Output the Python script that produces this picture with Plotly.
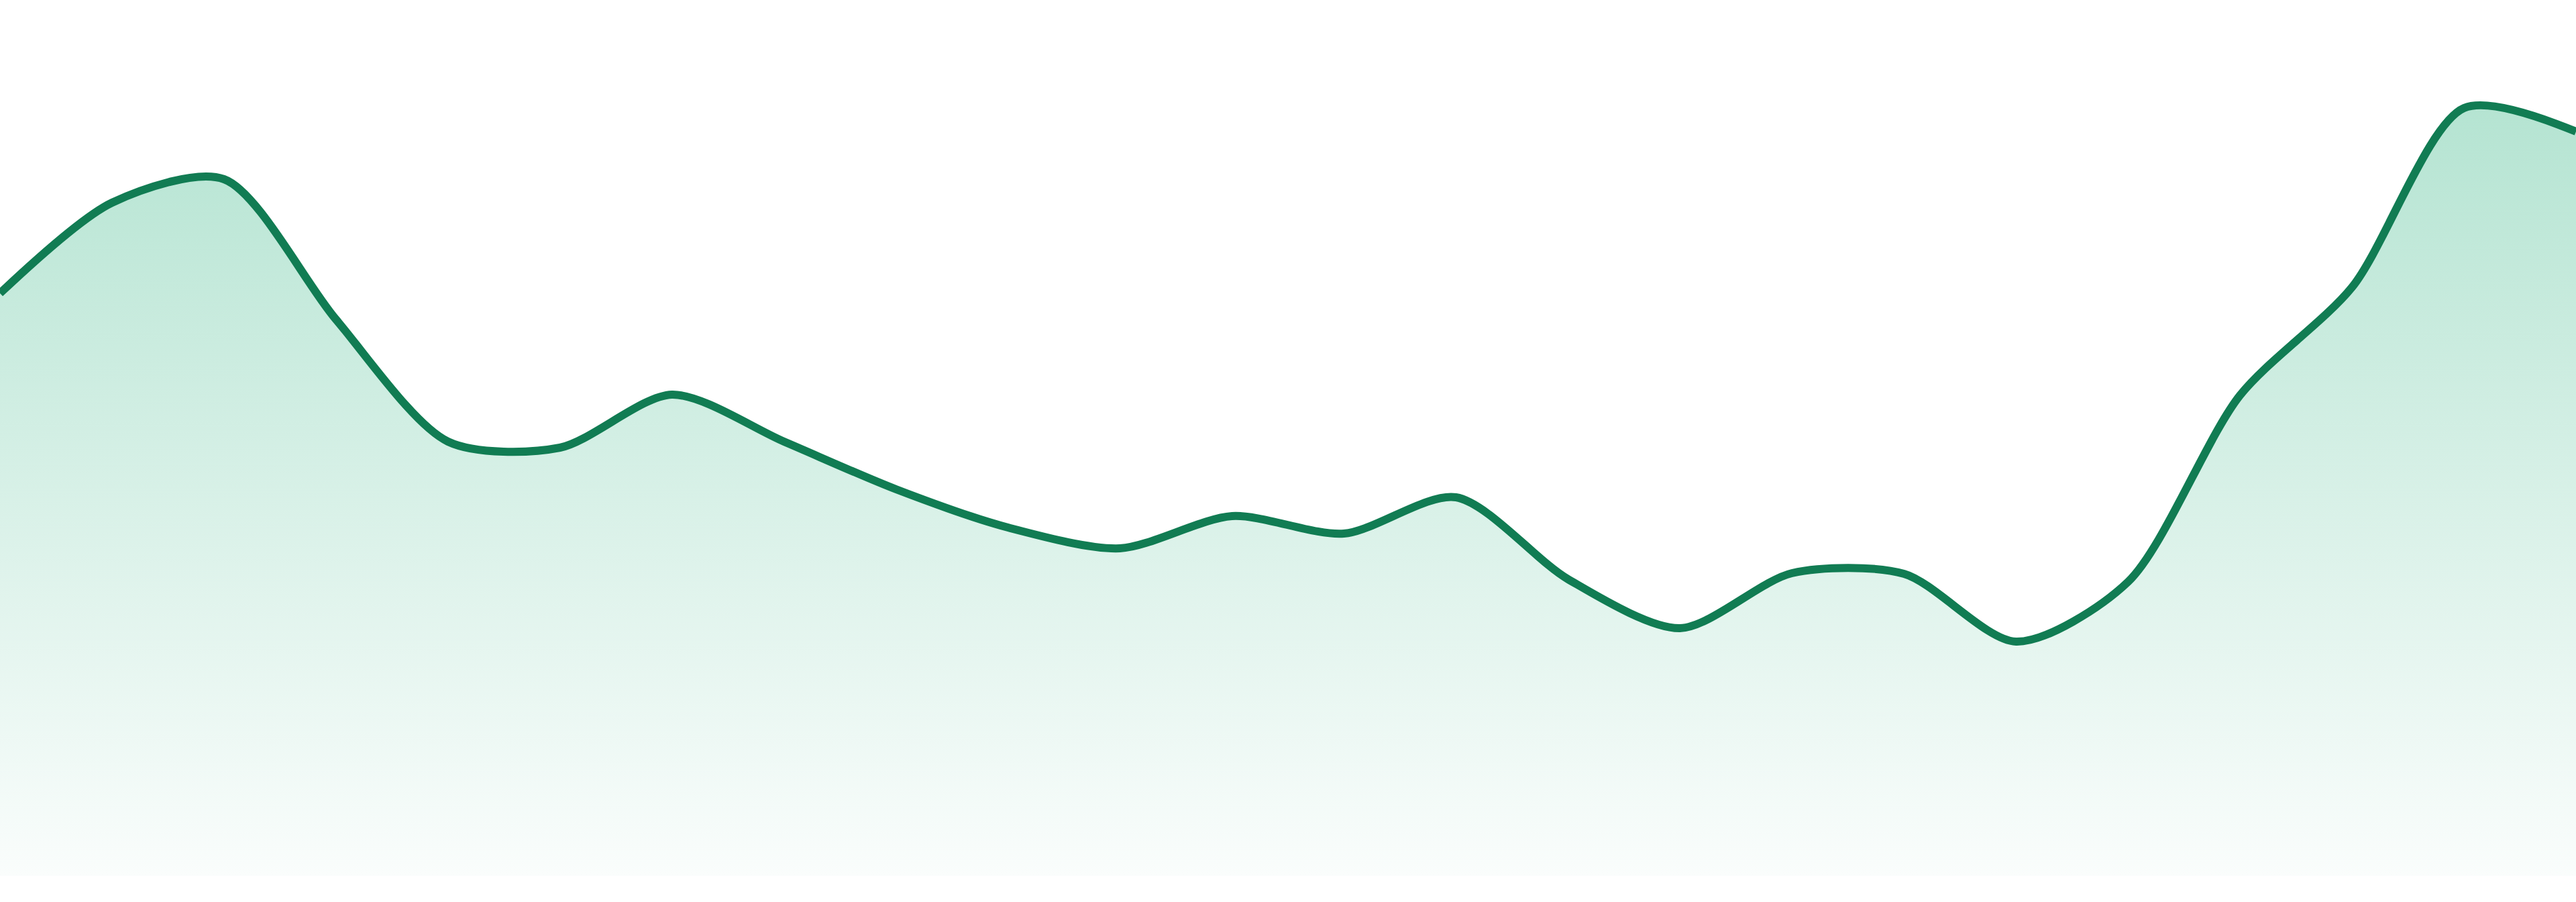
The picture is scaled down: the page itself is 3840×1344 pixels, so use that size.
import plotly.graph_objects as go

# x positions (index of each observation)
periods = list(range(24))
# series values
values = [86.8, 100.3, 103.8, 82.9, 64.7, 63.8, 71.7, 64.7, 57.6, 51.9, 48.8, 53.6,
          51.0, 56.4, 44.2, 36.9, 45.1, 45.0, 34.9, 43.8, 71.6, 87.7, 114.4, 110.9]

LINE = "rgb(17,124,83)"
FILL_TOP = "rgb(181,228,210)"
FILL_BOTTOM = "rgb(250,253,252)"

fig = go.Figure()
fig.add_trace(go.Scatter(
    x=periods,
    y=values,
    mode="lines+markers",
    marker=dict(size=1, color=LINE, opacity=0),
    line=dict(color=LINE, width=12, shape="spline", smoothing=0.8, simplify=False),
    fill="tozeroy",
    fillgradient=dict(
        type="vertical",
        colorscale=[[0, FILL_BOTTOM], [1, FILL_TOP]],
        start=0,
        stop=max(values),
    ),
    hoverinfo="skip",
    showlegend=False,
))

fig.update_layout(
    width=3840,
    height=1344,
    margin=dict(l=0, r=0, t=0, b=39),
    paper_bgcolor="white",
    plot_bgcolor="white",
    showlegend=False,
    xaxis=dict(range=[0, 23], showgrid=False, zeroline=False, showticklabels=False,
               showline=False, ticks=""),
    yaxis=dict(range=[0, 130.5], showgrid=False, zeroline=False, showticklabels=False,
               showline=False, ticks=""),
)

fig.write_html(
    "out.html",
    config={"displayModeBar": False, "staticPlot": True},
    post_script="document.body.style.margin='0';document.body.style.overflow='hidden';",
)
